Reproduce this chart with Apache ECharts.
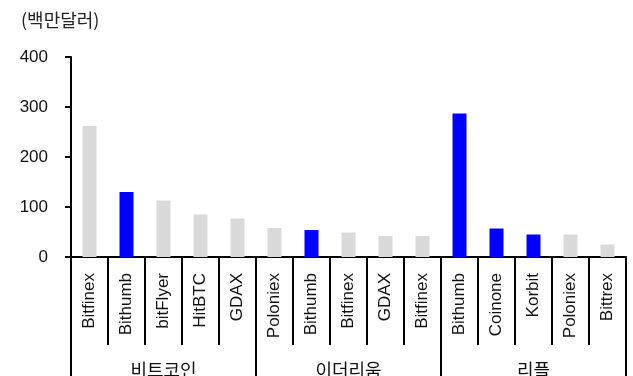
<!DOCTYPE html>
<html><head><meta charset="utf-8">
<script src="https://cdn.jsdelivr.net/npm/echarts@6/dist/echarts.min.js"></script>
<style>html,body{margin:0;padding:0;background:#fff}#c{width:633px;height:376px}</style>
</head><body><div id="c"></div>
<script>
const categories = ['Bitfinex','Bithumb','bitFlyer','HitBTC','GDAX','Poloniex','Bithumb','Bitfinex','GDAX','Bitfinex','Bithumb','Coinone','Korbit','Poloniex','Bittrex'];
const groups = ['비트코인','이더리움','리플'];
const values = [262,130,113,85,77,58,54,49,42,42,287,57,45,45,25];
const highlighted = [false,true,false,false,false,false,true,false,false,false,true,true,true,false,false];
const yTicks = [0,100,200,300,400];
const unitLabel = '(백만달러)';

const latin = 'Liberation Sans, Arial, sans-serif';
const kr = 'Noto Sans CJK KR, sans-serif';
const chart = echarts.init(document.getElementById('c'));
chart.setOption({
  animation:false,
  title:{text:unitLabel,left:16,top:6,textStyle:{fontFamily:kr,fontSize:18,fontWeight:'normal',color:'#222'}},
  grid:{left:71,right:7,top:57,bottom:119,containLabel:false,outerBoundsMode:'none'},
  xAxis:[{
    type:'category',data:categories,position:'bottom',
    axisLine:{lineStyle:{color:'#000',width:2}},
    axisTick:{show:true,interval:0,length:88,lineStyle:{color:'#000',width:2}},
    axisLabel:{interval:0,rotate:90,margin:16,fontFamily:latin,fontSize:17,color:'#111'}
  },{
    type:'category',data:groups,position:'bottom',offset:88,
    axisLine:{show:false},
    axisTick:{show:true,interval:0,length:35,lineStyle:{color:'#000',width:2}},
    axisLabel:{interval:0,margin:16,fontFamily:kr,fontSize:18,color:'#111'}
  }],
  yAxis:{
    type:'value',min:yTicks[0],max:yTicks[yTicks.length-1],interval:100,
    axisLine:{show:true,lineStyle:{color:'#000',width:2}},
    axisTick:{show:true,length:6,lineStyle:{color:'#000',width:2}},
    splitLine:{show:false},
    axisLabel:{margin:23,fontFamily:latin,fontSize:17,color:'#111'}
  },
  series:[{
    type:'bar',xAxisIndex:0,barWidth:14,
    data:values.map((v,i)=>({value:v,itemStyle:highlighted[i]?{color:'#0000ff',borderColor:'#0000ff',borderWidth:3}:{color:'#d9d9d9'}}))
  }]
});
</script></body></html>
